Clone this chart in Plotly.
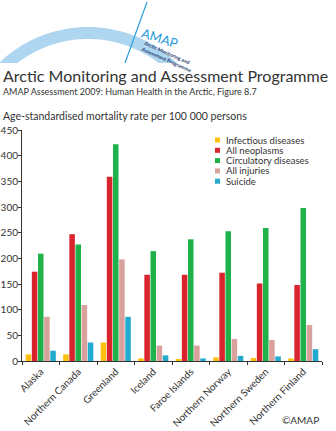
import numpy as np
import plotly.graph_objects as go

regions = ["Alaska", "Northern Canada", "Greenland", "Iceland", "Faroe Islands",
           "Northern Norway", "Northern Sweden", "Northern Finland"]
series_names = ["Infectious diseases", "All neoplasms", "Circulatory diseases",
                "All injuries", "Suicide"]
infectious = [13, 13, 36, 5, 3, 7, 6, 5]
neoplasms = [174, 247, 359, 168, 168, 172, 151, 148]
circulatory = [209, 227, 422, 214, 237, 253, 259, 298]
injuries = [86, 109, 198, 30, 30, 43, 41, 70]
suicide = [20, 36, 86, 11, 5, 10, 9, 23]
y_ticks = [0, 50, 100, 150, 200, 250, 300, 350, 400, 450]

colors = ["#FDC010", "#D9232D", "#1FB24A", "#D9A19C", "#22AACF"]
values = [infectious, neoplasms, circulatory, injuries, suicide]

W, H = 336, 431
L, R, T, B = 22, 14, 130, 70
FONT = "Lato, Open Sans, sans-serif"
TXT = "#333333"

fig = go.Figure()
for name, vals, c in zip(series_names, values, colors):
    fig.add_trace(go.Bar(x=regions, y=vals, name=name, marker_color=c,
                         marker_line_width=0, showlegend=False))

pw, ph = W - L - R, H - T - B
def px(x):
    return (x - L) / pw
def py(y):
    return (H - B - y) / ph

shapes = []
cx, cy, Ro, Ri, yend = 88, 155, 128, 116, 63
ao = np.arcsin((cy - yend) / Ro)
ai = np.arcsin((cy - yend) / Ri)
outer = np.linspace(np.pi - ao, ao, 60)
inner = np.linspace(ai, np.pi - ai, 60)
pts = [(cx + Ro * np.cos(a), cy - Ro * np.sin(a)) for a in outer]
pts += [(cx + Ri * np.cos(a), cy - Ri * np.sin(a)) for a in inner]
path = "M " + " L ".join(f"{px(x):.5f},{py(y):.5f}" for x, y in pts) + " Z"
shapes.append(dict(type="path", xref="paper", yref="paper", path=path,
                   fillcolor="#AFD6F1", line=dict(width=0), layer="below"))
shapes.append(dict(type="line", xref="paper", yref="paper",
                   x0=px(147), y0=py(2), x1=px(125), y1=py(63),
                   line=dict(color="#2E9FDF", width=1.2)))

annotations = []
annotations.append(dict(text="AMAP", xref="paper", yref="paper", x=px(160), y=py(22),
                        showarrow=False, textangle=18,
                        font=dict(family=FONT, size=13, color="#2B9BD8")))
annotations.append(dict(text="<b>Arctic Monitoring and<br>Assessment Programme</b>",
                        xref="paper", yref="paper", x=px(167), y=py(37),
                        showarrow=False, textangle=24, align="left",
                        font=dict(family=FONT, size=5, color="#1E3768")))
annotations.append(dict(text="Arctic Monitoring and Assessment Programme", xref="paper",
                        yref="paper", x=px(1), y=py(76), xanchor="left", yanchor="middle",
                        showarrow=False, font=dict(family=FONT, size=16, color=TXT)))
annotations.append(dict(text="AMAP Assessment 2009: Human Health in the Arctic, Figure 8.7",
                        xref="paper", yref="paper", x=px(1), y=py(91), xanchor="left",
                        yanchor="middle", showarrow=False,
                        font=dict(family=FONT, size=9, color=TXT)))
annotations.append(dict(text="Age-standardised mortality rate per 100 000 persons",
                        xref="paper", yref="paper", x=px(1), y=py(116), xanchor="left",
                        yanchor="middle", showarrow=False,
                        font=dict(family=FONT, size=10.5, color=TXT)))
annotations.append(dict(text="©AMAP", xref="paper", yref="paper", x=px(321), y=py(420),
                        xanchor="right", yanchor="middle", showarrow=False,
                        font=dict(family=FONT, size=10, color=TXT)))

for i, (name, c) in enumerate(zip(series_names, colors)):
    yy = 140 + i * 10.3
    shapes.append(dict(type="rect", xref="paper", yref="paper",
                       x0=px(215), x1=px(220), y0=py(yy - 2.5), y1=py(yy + 2.5),
                       fillcolor=c, line=dict(width=0)))
    annotations.append(dict(text=name, xref="paper", yref="paper", x=px(224), y=py(yy),
                            xanchor="left", yanchor="middle", showarrow=False,
                            font=dict(family=FONT, size=9.5, color=TXT)))

fig.update_layout(
    width=W, height=H, margin=dict(l=L, r=R, t=T, b=B, autoexpand=False),
    paper_bgcolor="white", plot_bgcolor="white",
    barmode="group", bargap=0.18, bargroupgap=0.1,
    font=dict(family=FONT, size=10.5, color=TXT),
    shapes=shapes, annotations=annotations, showlegend=False,
    xaxis=dict(showline=True, linecolor="#333", linewidth=1, ticks="outside",
               tickson="boundaries", ticklen=3, tickcolor="#333", tickangle=-45,
               showgrid=False, automargin=False, tickfont=dict(size=10)),
    yaxis=dict(range=[0, 450], tickvals=y_ticks, showline=True, linecolor="#333",
               linewidth=1, ticks="outside", ticklen=3, tickcolor="#333",
               showgrid=False, zeroline=False, automargin=False,
               ticklabelstandoff=-2, tickfont=dict(size=10)),
)

fig.write_html("out.html")
